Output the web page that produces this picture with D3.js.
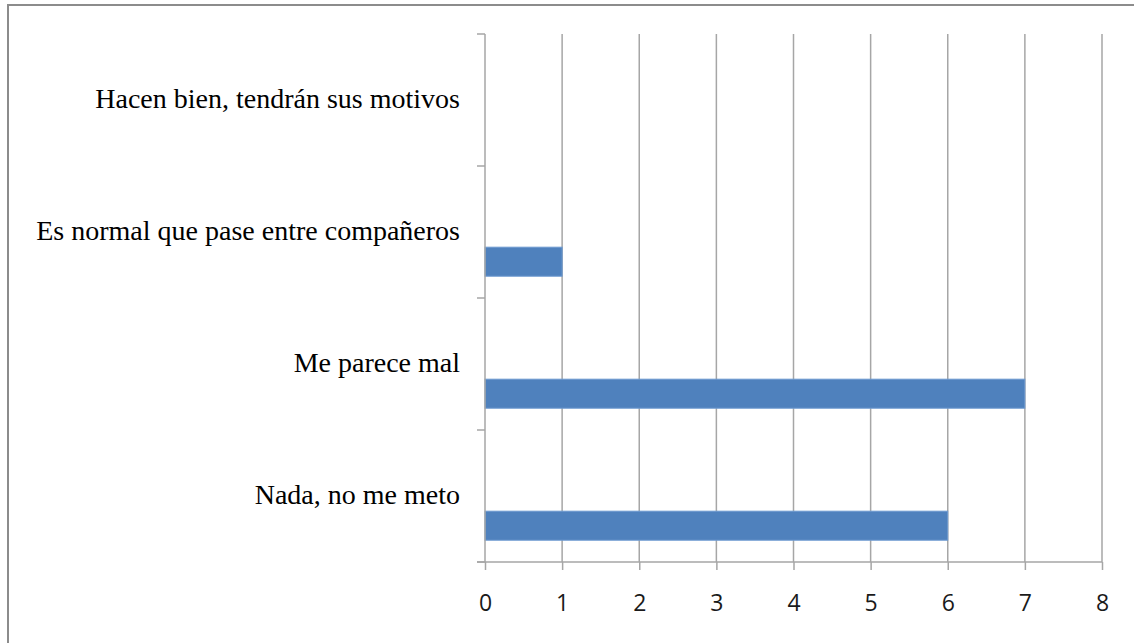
<!DOCTYPE html>
<html>
<head>
<meta charset="utf-8">
<title>bar chart</title>
<style>
  body { margin: 0; background: #fff; }
</style>
</head>
<body>
<svg width="1134" height="643"></svg>
<script src="https://cdn.jsdelivr.net/npm/d3@7/dist/d3.min.js"></script>
<script>
// categorias de arriba a abajo
var categories = ["Hacen bien, tendrán sus motivos", "Es normal que pase entre compañeros", "Me parece mal", "Nada, no me meto"];
var values = [0, 1, 7, 6];
var xTicks = [0, 1, 2, 3, 4, 5, 6, 7, 8];

var svg = d3.select("svg");
var margin = {top: 34, left: 485, right: 32, bottom: 81};
var width = 1134 - margin.left - margin.right;
var height = 643 - margin.top - margin.bottom;

// marco exterior
svg.append("rect")
  .attr("x", 8).attr("y", 5)
  .attr("width", 1200).attr("height", 700)
  .attr("fill", "none")
  .attr("stroke", "#8c8c8c")
  .attr("stroke-width", 2);

var g = svg.append("g").attr("transform", "translate(" + margin.left + "," + margin.top + ")");

var x = d3.scaleLinear().domain([0, 8]).range([0, width]);
var y = d3.scaleBand().domain(categories).range([0, height]);

// lineas de cuadricula
g.append("g").selectAll("line")
  .data(xTicks.slice(1))
  .enter().append("line")
  .attr("x1", d => x(d)).attr("x2", d => x(d))
  .attr("y1", 0).attr("y2", height)
  .attr("stroke", "#a6a6a6").attr("stroke-width", 1.5);

// barras (en la parte baja de cada banda)
g.append("g").selectAll("rect")
  .data(values)
  .enter().append("rect")
  .attr("x", x(0))
  .attr("y", (d, i) => y(categories[i]) + y.bandwidth() * 0.615)
  .attr("width", d => x(d) - x(0))
  .attr("height", y.bandwidth() * 0.22)
  .attr("fill", "#4f81bd")
  .attr("stroke", "#6f9bd1")
  .attr("stroke-width", d => d > 0 ? 1 : 0);

// eje x
var xAxis = g.append("g")
  .attr("transform", "translate(0," + height + ")")
  .call(d3.axisBottom(x).tickValues(xTicks).tickSize(8).tickPadding(25).tickSizeOuter(0));
xAxis.select(".domain").attr("stroke", "#a6a6a6").attr("stroke-width", 1.5)
  .attr("d", "M" + (-8) + ",0H" + width);
xAxis.selectAll(".tick line").attr("stroke", "#a6a6a6").attr("stroke-width", 1.5);
xAxis.selectAll(".tick text")
  .attr("fill", "#1a1a1a")
  .style("font-family", "'Open Sans', 'DejaVu Sans', sans-serif")
  .style("font-size", "23px");

// eje y
var boundaries = [0].concat(categories.map(c => y(c) + y.bandwidth()));
var yAxis = g.append("g");
yAxis.append("line")
  .attr("x1", 0).attr("x2", 0).attr("y1", 0).attr("y2", height)
  .attr("stroke", "#a6a6a6").attr("stroke-width", 1.5);
yAxis.selectAll(".btick")
  .data(boundaries)
  .enter().append("line")
  .attr("class", "btick")
  .attr("x1", -8).attr("x2", 0)
  .attr("y1", d => d).attr("y2", d => d)
  .attr("stroke", "#a6a6a6").attr("stroke-width", 1.5);

yAxis.selectAll("text")
  .data(categories)
  .enter().append("text")
  .attr("x", -25)
  .attr("y", d => y(d) + y.bandwidth() / 2)
  .attr("dy", "0.3em")
  .attr("text-anchor", "end")
  .attr("fill", "#000")
  .style("font-family", "'Liberation Serif', 'DejaVu Serif', serif")
  .style("font-size", "28px")
  .text(d => d);
</script>
</body>
</html>
